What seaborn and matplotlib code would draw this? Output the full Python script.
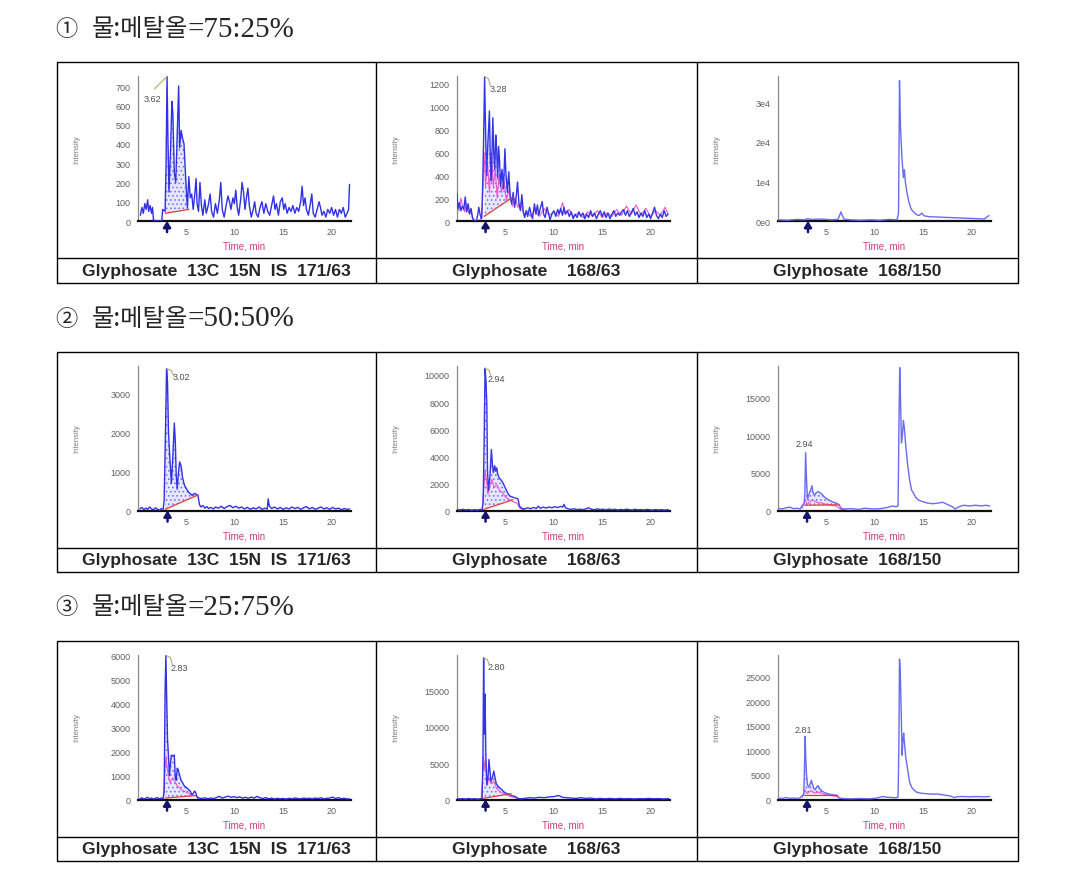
import matplotlib
matplotlib.use("Agg")
import matplotlib.pyplot as plt
from matplotlib.lines import Line2D
from matplotlib.patches import Rectangle
import numpy as np
import seaborn as sns

# ---------------------------------------------------------------
# data: (time [min], intensity [cps])
# ---------------------------------------------------------------
heading_nums = ["①", "②", "③"]
heading_solvent = "물:메탈올"
heading_ratio = ["=75:25%", "=50:50%", "=25:75%"]
captions = ["Glyphosate  13C  15N  IS  171/63", "Glyphosate    168/63", "Glyphosate  168/150"]

# row 1 : 75:25
a1_trace = [(0.25, 30), (0.4, 70), (0.55, 40), (0.7, 90), (0.85, 60), (1.0, 110), (1.1, 50), (1.25, 80),
            (1.4, 40), (1.5, 70), (1.6, 5), (2.0, 0), (2.45, 0), (2.55, 60), (2.8, 50), (2.9, 300),
            (3.0, 750), (3.1, 400), (3.2, 150), (3.35, 350), (3.5, 620), (3.6, 560), (3.75, 250), (3.9, 200),
            (4.05, 450), (4.2, 700), (4.3, 380), (4.45, 470), (4.6, 430), (4.75, 400), (4.85, 300), (5.0, 150),
            (5.1, 70), (5.25, 230), (5.4, 120), (5.55, 140), (5.7, 60), (5.85, 130), (6.0, 220), (6.1, 90),
            (6.25, 50), (6.4, 200), (6.55, 80), (6.7, 30), (6.9, 110), (7.05, 40), (7.25, 80), (7.45, 140),
            (7.6, 50), (7.8, 20), (8.0, 90), (8.2, 40), (8.4, 110), (8.55, 200), (8.7, 60), (8.9, 20),
            (9.1, 80), (9.3, 130), (9.45, 100), (9.6, 60), (9.8, 120), (9.95, 90), (10.1, 160), (10.25, 70),
            (10.4, 30), (10.6, 110), (10.75, 200), (10.9, 150), (11.05, 60), (11.2, 120), (11.35, 170),
            (11.5, 80), (11.7, 20), (11.9, 60), (12.05, 100), (12.2, 40), (12.4, 20), (12.6, 70), (12.8, 100),
            (13.0, 40), (13.2, 90), (13.4, 50), (13.6, 30), (13.8, 80), (14.0, 130), (14.15, 60), (14.3, 90),
            (14.5, 30), (14.7, 100), (14.9, 120), (15.05, 60), (15.2, 90), (15.4, 40), (15.6, 70), (15.8, 50),
            (16.0, 80), (16.2, 40), (16.4, 70), (16.6, 50), (16.8, 100), (16.95, 180), (17.1, 80),
            (17.25, 120), (17.4, 60), (17.6, 30), (17.8, 90), (17.95, 140), (18.1, 40), (18.3, 20), (18.5, 60),
            (18.7, 100), (18.85, 70), (19.0, 30), (19.2, 50), (19.4, 20), (19.6, 60), (19.8, 40), (20.0, 70),
            (20.2, 30), (20.4, 60), (20.6, 20), (20.8, 60), (21.0, 40), (21.2, 70), (21.4, 20), (21.6, 40),
            (21.75, 60), (21.85, 190)]
a2_trace = [(0.0, 240), (0.1, 110), (0.25, 160), (0.4, 90), (0.55, 130), (0.7, 100), (0.85, 210), (1.0, 80),
            (1.15, 150), (1.3, 60), (1.45, 110), (1.6, 30), (1.75, 5), (2.0, 0), (2.15, 60), (2.25, 120),
            (2.4, 50), (2.55, 20), (2.65, 300), (2.75, 720), (2.85, 1260), (2.95, 800), (3.05, 400), (3.2, 700),
            (3.35, 960), (3.45, 500), (3.55, 350), (3.7, 900), (3.8, 600), (3.9, 450), (4.0, 750), (4.1, 620),
            (4.2, 380), (4.3, 650), (4.4, 520), (4.5, 300), (4.65, 450), (4.8, 280), (4.95, 630), (5.05, 420),
            (5.2, 250), (5.35, 430), (5.5, 200), (5.65, 150), (5.8, 250), (5.95, 120), (6.1, 200), (6.25, 340),
            (6.4, 150), (6.55, 90), (6.7, 230), (6.85, 80), (7.0, 30), (7.15, 90), (7.3, 40), (7.5, 120),
            (7.65, 60), (7.8, 20), (8.0, 150), (8.15, 60), (8.3, 140), (8.45, 50), (8.6, 110), (8.8, 170),
            (8.95, 60), (9.1, 30), (9.3, 120), (9.45, 70), (9.6, 10), (9.8, 60), (10.0, 90), (10.2, 40),
            (10.4, 100), (10.55, 60), (10.7, 110), (10.9, 50), (11.05, 120), (11.2, 60), (11.4, 90), (11.6, 40),
            (11.8, 80), (12.0, 20), (12.2, 60), (12.4, 30), (12.6, 80), (12.8, 40), (13.0, 70), (13.2, 20),
            (13.4, 60), (13.6, 30), (13.8, 90), (14.0, 40), (14.2, 70), (14.4, 20), (14.6, 60), (14.8, 90),
            (15.0, 40), (15.2, 80), (15.4, 30), (15.6, 70), (15.8, 20), (16.0, 60), (16.2, 90), (16.4, 40),
            (16.6, 70), (16.8, 50), (17.0, 80), (17.2, 100), (17.4, 50), (17.6, 90), (17.8, 40), (18.0, 70),
            (18.2, 110), (18.4, 50), (18.6, 80), (18.8, 30), (19.0, 70), (19.2, 40), (19.4, 90), (19.6, 30),
            (19.8, 60), (20.0, 20), (20.2, 70), (20.4, 120), (20.6, 50), (20.8, 20), (21.0, 60), (21.2, 30),
            (21.4, 90), (21.6, 40), (21.8, 60)]
a2_pink = [(0.0, 150), (0.2, 90), (0.4, 200), (0.6, 120), (0.8, 80), (1.0, 150), (1.2, 70), (1.4, 100),
           (1.6, 20), (2.0, 0), (2.4, 10), (2.6, 80), (2.8, 600), (2.95, 300), (3.15, 500), (3.35, 250),
           (3.55, 600), (3.75, 300), (3.95, 450), (4.15, 200), (4.35, 400), (4.6, 250), (4.85, 350), (5.1, 180),
           (5.4, 280), (5.7, 130), (6.0, 200), (6.3, 120), (6.6, 160), (6.9, 50), (7.2, 90), (7.6, 40),
           (8.0, 90), (8.5, 40), (9.0, 110), (9.5, 50), (10.0, 80), (10.5, 40), (10.9, 160), (11.2, 60),
           (11.6, 100), (12.0, 40), (12.5, 70), (13.0, 30), (13.5, 80), (14.0, 40), (14.5, 90), (15.0, 30),
           (15.5, 70), (16.0, 40), (16.5, 100), (17.0, 50), (17.5, 130), (18.0, 60), (18.5, 140), (19.0, 50),
           (19.5, 110), (20.0, 40), (20.5, 90), (21.0, 50), (21.5, 120), (21.8, 60)]
a3_trace = [(0.0, 300), (1.0, 200), (2.0, 400), (2.8, 300), (3.0, 600), (3.5, 400), (4.5, 500), (5.5, 300),
            (6.2, 400), (6.5, 2300), (6.8, 500), (7.5, 300), (8.5, 200), (9.5, 300), (10.5, 200), (11.5, 400),
            (12.3, 300), (12.45, 2000), (12.55, 35500), (12.65, 24000), (12.8, 16000), (12.95, 11000),
            (13.05, 13000), (13.15, 10000), (13.3, 7500), (13.5, 5000), (13.75, 3000), (14.0, 2300),
            (14.3, 1600), (14.6, 1400), (14.85, 2000), (15.1, 1300), (15.6, 1100), (16.5, 1000), (17.5, 900),
            (18.5, 800), (19.5, 700), (20.5, 600), (21.3, 500), (21.8, 1400)]

# row 2 : 50:50
b1_trace = [(0.2, 40), (0.4, 80), (0.6, 20), (0.8, 60), (1.0, 30), (1.2, 90), (1.4, 40), (1.6, 20), (1.8, 70),
            (2.0, 30), (2.2, 10), (2.4, 50), (2.6, 30), (2.7, 250), (2.8, 1500), (2.95, 3650), (3.05, 3300),
            (3.15, 2000), (3.3, 1300), (3.45, 700), (3.6, 1400), (3.75, 2250), (3.85, 1800), (3.95, 900),
            (4.05, 550), (4.15, 900), (4.3, 1250), (4.45, 1150), (4.6, 850), (4.8, 650), (5.0, 560), (5.2, 480),
            (5.4, 430), (5.6, 390), (5.8, 440), (6.0, 420), (6.2, 380), (6.35, 150), (6.5, 90), (6.7, 130),
            (6.9, 60), (7.1, 100), (7.3, 50), (7.5, 80), (7.8, 40), (8.0, 90), (8.3, 60), (8.6, 110), (8.9, 50),
            (9.2, 100), (9.5, 130), (9.8, 70), (10.1, 110), (10.4, 60), (10.7, 90), (11.0, 40), (11.3, 80),
            (11.6, 30), (11.9, 70), (12.2, 40), (12.5, 90), (12.8, 30), (13.1, 60), (13.35, 40), (13.45, 300),
            (13.55, 120), (13.8, 50), (14.1, 90), (14.4, 40), (14.7, 80), (15.0, 30), (15.3, 70), (15.6, 40),
            (15.9, 90), (16.2, 50), (16.5, 80), (16.8, 30), (17.1, 70), (17.4, 100), (17.7, 40), (18.0, 80),
            (18.3, 30), (18.6, 60), (18.9, 90), (19.2, 40), (19.5, 70), (19.8, 30), (20.1, 80), (20.4, 40),
            (20.7, 60), (21.0, 20), (21.3, 50), (21.6, 30), (21.85, 40)]
b2_trace = [(0.0, 80), (0.3, 30), (0.6, 90), (0.9, 40), (1.2, 70), (1.5, 20), (1.8, 60), (2.1, 30), (2.4, 80),
            (2.6, 50), (2.7, 600), (2.8, 5000), (2.9, 10500), (3.0, 9500), (3.08, 7800), (3.15, 3000),
            (3.25, 1500), (3.4, 2500), (3.55, 4500), (3.65, 3500), (3.75, 2800), (3.9, 3300), (4.0, 2900),
            (4.1, 3150), (4.2, 2700), (4.35, 2400), (4.5, 2300), (4.7, 2100), (4.9, 1800), (5.1, 1500),
            (5.3, 1200), (5.5, 1050), (5.7, 1000), (5.9, 950), (6.1, 900), (6.3, 850), (6.45, 350), (6.6, 200),
            (6.8, 150), (7.0, 120), (7.3, 200), (7.6, 130), (7.9, 220), (8.2, 150), (8.4, 320), (8.6, 160),
            (8.9, 250), (9.2, 180), (9.5, 260), (9.8, 200), (10.1, 280), (10.4, 220), (10.7, 300), (10.9, 250),
            (11.05, 450), (11.2, 200), (11.5, 120), (11.8, 80), (12.1, 130), (12.4, 70), (12.7, 100),
            (13.0, 60), (13.3, 120), (13.6, 200), (13.9, 90), (14.2, 60), (14.5, 120), (14.8, 70), (15.1, 100),
            (15.4, 50), (15.7, 110), (16.0, 60), (16.3, 90), (16.6, 40), (16.9, 80), (17.2, 50), (17.5, 100),
            (17.8, 60), (18.1, 40), (18.4, 90), (18.7, 50), (19.0, 70), (19.3, 40), (19.6, 80), (19.9, 60),
            (20.2, 30), (20.5, 70), (20.8, 40), (21.1, 60), (21.4, 30), (21.7, 60), (21.85, 40)]
b2_pink = [(2.6, 30), (2.75, 1500), (2.9, 3000), (3.05, 2200), (3.2, 1200), (3.4, 1800), (3.6, 2300),
           (3.85, 1700), (4.1, 1900), (4.4, 1500), (4.7, 1300), (5.0, 1000), (5.4, 800), (5.8, 650),
           (6.2, 550), (6.45, 200), (6.7, 80), (7.0, 50)]
b3_trace = [(0.0, 300), (0.4, 200), (0.8, 350), (1.2, 450), (1.6, 250), (2.0, 300), (2.3, 200), (2.5, 700),
            (2.7, 800), (2.78, 2500), (2.85, 7700), (2.95, 4000), (3.05, 1500), (3.2, 2200), (3.4, 2800),
            (3.5, 3300), (3.6, 2500), (3.75, 2000), (3.9, 2300), (4.1, 2500), (4.3, 2400), (4.5, 2200),
            (4.8, 1800), (5.1, 1500), (5.4, 1300), (5.7, 1100), (6.0, 1000), (6.3, 800), (6.5, 300), (6.8, 200),
            (7.5, 250), (8.3, 150), (9.0, 300), (9.8, 200), (10.6, 250), (11.3, 400), (11.8, 600), (12.2, 500),
            (12.4, 600), (12.5, 12000), (12.57, 19000), (12.65, 15000), (12.75, 9000), (12.85, 10000),
            (12.95, 12000), (13.05, 11000), (13.2, 8500), (13.4, 6000), (13.6, 4000), (13.8, 2700),
            (14.0, 2300), (14.2, 1800), (14.5, 1400), (14.9, 1200), (15.4, 1000), (16.0, 900), (16.6, 1000),
            (17.0, 1100), (17.5, 800), (18.0, 500), (18.3, 200), (18.7, 500), (19.2, 700), (19.8, 600),
            (20.4, 700), (21.0, 600), (21.5, 700), (21.85, 600)]
b3_pink = [(2.5, 300), (2.8, 1500), (3.0, 800), (3.5, 1400), (4.0, 1100), (4.5, 1000), (5.0, 800),
           (5.5, 700), (6.0, 600), (6.5, 150), (7.0, 100)]

# row 3 : 25:75
c1_trace = [(0.2, 30), (0.4, 70), (0.6, 20), (0.8, 50), (1.0, 90), (1.2, 30), (1.4, 60), (1.6, 20), (1.8, 50),
            (2.0, 80), (2.2, 30), (2.4, 60), (2.6, 40), (2.7, 300), (2.8, 4500), (2.88, 6000), (2.95, 4500),
            (3.05, 2500), (3.15, 1800), (3.25, 1000), (3.35, 1500), (3.45, 1850), (3.6, 1800), (3.75, 1850),
            (3.85, 900), (3.95, 800), (4.05, 1300), (4.15, 1250), (4.3, 1000), (4.45, 800), (4.6, 700),
            (4.8, 550), (5.0, 500), (5.2, 420), (5.4, 350), (5.55, 200), (5.7, 250), (5.85, 350), (5.95, 300),
            (6.1, 100), (6.3, 60), (6.6, 40), (6.9, 70), (7.2, 30), (7.5, 60), (7.8, 40), (8.1, 80), (8.4, 130),
            (8.7, 60), (9.0, 100), (9.3, 140), (9.6, 90), (9.9, 120), (10.2, 80), (10.5, 110), (10.8, 60),
            (11.1, 90), (11.4, 50), (11.7, 100), (12.0, 60), (12.3, 130), (12.6, 70), (12.9, 40), (13.2, 80),
            (13.5, 30), (13.8, 60), (14.1, 20), (14.4, 50), (14.7, 30), (15.0, 40), (15.3, 20), (15.6, 50),
            (15.9, 30), (16.2, 60), (16.5, 40), (16.8, 30), (17.1, 60), (17.4, 40), (17.7, 50), (18.0, 30),
            (18.3, 60), (18.6, 40), (18.9, 70), (19.2, 30), (19.5, 50), (19.8, 60), (20.1, 100), (20.4, 40),
            (20.7, 80), (21.0, 30), (21.3, 50), (21.6, 20), (21.85, 30)]
c1_pink = [(2.6, 20), (2.75, 1000), (2.9, 1800), (3.05, 1200), (3.3, 700), (3.6, 900), (4.0, 600),
           (4.5, 400), (5.0, 300), (5.5, 200), (6.0, 150), (6.2, 30)]
c2_trace = [(0.0, 150), (0.3, 80), (0.6, 120), (0.9, 60), (1.2, 140), (1.5, 70), (1.8, 110), (2.1, 60),
            (2.4, 90), (2.6, 150), (2.68, 6000), (2.75, 19500), (2.82, 9000), (2.9, 14500), (2.98, 6000),
            (3.08, 2000), (3.2, 3000), (3.3, 5500), (3.4, 4000), (3.5, 2500), (3.65, 3000), (3.8, 3900),
            (3.9, 3200), (4.05, 2200), (4.2, 1900), (4.4, 1600), (4.6, 1400), (4.8, 1100), (5.0, 900),
            (5.3, 750), (5.6, 550), (5.9, 450), (6.1, 350), (6.3, 150), (6.6, 100), (7.0, 150), (7.5, 250),
            (8.0, 200), (8.5, 300), (9.0, 250), (9.5, 350), (10.0, 400), (10.5, 550), (10.9, 300), (11.3, 250),
            (11.8, 200), (12.3, 150), (12.8, 250), (13.3, 150), (13.8, 200), (14.3, 100), (14.8, 150),
            (15.3, 100), (15.8, 150), (16.3, 100), (16.8, 150), (17.3, 100), (17.8, 130), (18.3, 80),
            (18.8, 120), (19.3, 100), (19.8, 150), (20.3, 100), (20.8, 130), (21.3, 80), (21.85, 120)]
c2_pink = [(2.5, 100), (2.65, 3000), (2.72, 6000), (2.8, 4000), (2.95, 5500), (3.1, 2000), (3.3, 3000),
           (3.5, 2200), (3.8, 2500), (4.1, 1500), (4.5, 1000), (5.0, 700), (5.5, 400), (6.0, 250), (6.3, 100),
           (7.0, 80)]
c3_trace = [(0.0, 300), (0.4, 200), (0.8, 400), (1.2, 250), (1.6, 300), (2.0, 200), (2.3, 350), (2.5, 800),
            (2.65, 900), (2.72, 5000), (2.8, 12800), (2.88, 8000), (2.95, 5000), (3.05, 3000), (3.15, 2500),
            (3.3, 3000), (3.45, 3900), (3.55, 3200), (3.7, 2200), (3.85, 2000), (4.0, 2600), (4.15, 2800),
            (4.3, 2200), (4.5, 1800), (4.8, 1400), (5.1, 1200), (5.5, 1000), (5.9, 900), (6.1, 850), (6.3, 300),
            (6.7, 200), (7.5, 150), (8.5, 200), (9.5, 150), (10.2, 300), (10.8, 600), (11.3, 450), (11.8, 400),
            (12.2, 350), (12.4, 500), (12.48, 10000), (12.55, 28500), (12.63, 26000), (12.72, 18000),
            (12.82, 9000), (12.9, 12000), (12.98, 13500), (13.08, 11000), (13.2, 8500), (13.4, 6000),
            (13.6, 3500), (13.8, 2500), (14.0, 2000), (14.3, 1500), (14.7, 1300), (15.2, 1200), (15.8, 1100),
            (16.5, 1100), (17.2, 900), (17.8, 700), (18.2, 400), (18.6, 600), (19.2, 600), (19.8, 550),
            (20.5, 600), (21.2, 550), (21.85, 600)]
c3_pink = [(2.5, 400), (2.75, 2000), (3.0, 1200), (3.4, 1800), (3.8, 1300), (4.2, 1500), (4.7, 1100),
           (5.2, 900), (5.8, 700), (6.2, 500), (6.5, 150), (7.0, 100)]

# integration baselines (start, end), peak labels (text, pos, leader), injection marker, y axis
baselines = [[((2.8, 40), (5.25, 60)), ((2.8, 40), (5.8, 210)), None],
             [((2.8, 30), (6.2, 400)), ((2.75, 80), (5.8, 800)), ((2.8, 700), (6.3, 750))],
             [((2.8, 60), (5.9, 160)), ((2.7, 150), (5.6, 800)), ((2.7, 900), (6.1, 900))]]
peak_labels = [[("3.62", (1.5, 634), [(3.0, 750), (1.7, 685)]),
                ("3.28", (4.3, 1154), [(2.85, 1260), (3.25, 1240), (3.45, 1180)]),
                None],
               [("3.02", (4.5, 3440), [(2.95, 3650), (3.45, 3600), (3.7, 3450)]),
                ("2.94", (4.1, 9730), [(2.9, 10500), (3.3, 10350), (3.5, 9950)]),
                ("2.94", (2.75, 8900), None)],
               [("2.83", (4.3, 5500), [(2.88, 6000), (3.35, 5900), (3.55, 5600)]),
                ("2.80", (4.05, 18250), [(2.75, 19500), (3.15, 19200), (3.35, 18500)]),
                ("2.81", (2.66, 14200), None)]]
marker_t = [[3.0, 2.95, 3.1], [3.05, 2.95, 3.0], [3.0, 2.95, 3.0]]
y_max = [[752, 1265, 36700], [3730, 10700, 19300], [6030, 19950, 29450]]
y_ticks = [[[0, 100, 200, 300, 400, 500, 600, 700], [0, 200, 400, 600, 800, 1000, 1200], [0, 10000, 20000, 30000]],
           [[0, 1000, 2000, 3000], [0, 2000, 4000, 6000, 8000, 10000], [0, 5000, 10000, 15000]],
           [[0, 1000, 2000, 3000, 4000, 5000, 6000], [0, 5000, 10000, 15000], [0, 5000, 10000, 15000, 20000, 25000]]]
a3_ticklabels = ["0e0", "1e4", "2e4", "3e4"]
x_ticks = [5, 10, 15, 20]

traces = [[a1_trace, a2_trace, a3_trace], [b1_trace, b2_trace, b3_trace], [c1_trace, c2_trace, c3_trace]]
pinks = [[None, a2_pink, None], [None, b2_pink, b3_pink], [c1_pink, c2_pink, c3_pink]]

# ---------------------------------------------------------------
sns.set_style("white")
plt.rcParams["font.family"] = ["Liberation Sans", "DejaVu Sans"]
plt.rcParams["hatch.linewidth"] = 0.6

W, H = 1070, 870
fig = plt.figure(figsize=(W / 100, H / 100), dpi=100)
fig.patch.set_facecolor("white")

col_left = [57, 376, 697]
col_right = 1018
row_top = [63, 352.5, 641.5]
row_h = 220.5
cap_off = 196

trace_col = ["#3030e6", "#3434e8", "#6b6bf2"]


def fx(x):
    return x / W


def fy(y):
    return 1 - y / H


def draw_panel(ax, r, c):
    t, y = map(np.array, zip(*traces[r][c]))
    base = baselines[r][c]
    if base is not None:
        (t0, b0), (t1, b1) = base
        m = (t >= t0) & (t <= t1)
        bl = b0 + (b1 - b0) * (t[m] - t0) / (t1 - t0)
        ax.fill_between(t[m], bl, y[m], facecolor="#e6e6ff", edgecolor="#6c6cff",
                        hatch="....", lw=0, zorder=1)
    if pinks[r][c] is not None:
        pt, py = zip(*pinks[r][c])
        sns.lineplot(x=list(pt), y=list(py), ax=ax, color="#ee55cc", lw=0.8,
                     estimator=None, sort=False, zorder=2)
    sns.lineplot(x=t, y=y, ax=ax, color=trace_col[c], lw=1.0,
                 estimator=None, sort=False, zorder=3)
    if base is not None:
        sns.lineplot(x=[t0, t1], y=[b0, b1], ax=ax, color="#e03c3c", lw=0.9,
                     estimator=None, sort=False, zorder=4)

    lab = peak_labels[r][c]
    if lab is not None:
        txt, (lx, ly), leader = lab
        ax.text(lx, ly, txt, fontsize=6.5, color="#505050", ha="center", va="center", zorder=5)
        if leader is not None:
            lt, ly_ = zip(*leader)
            ax.plot(lt, ly_, color="#b4aa70", lw=0.8, zorder=5)

    ax.annotate("", xy=(marker_t[r][c], 0), xytext=(0, -8), textcoords="offset points",
                arrowprops=dict(arrowstyle="-|>,head_length=0.35,head_width=0.22",
                                color="#141470", lw=1.8, shrinkA=0, shrinkB=0),
                annotation_clip=False)

    ax.set_xlim(0, 22)
    ax.set_ylim(0, y_max[r][c])
    ax.set_xticks(x_ticks)
    ax.set_yticks(y_ticks[r][c])
    if (r, c) == (0, 2):
        ax.set_yticklabels(a3_ticklabels)
    ax.tick_params(labelsize=6.5, colors="#606060", length=2, width=0.6)
    ax.tick_params(axis="y", pad=3.5)
    ax.tick_params(axis="x", pad=2.5)
    for s in ["top", "right"]:
        ax.spines[s].set_visible(False)
    ax.spines["left"].set_color("#8c8c8c")
    ax.spines["left"].set_linewidth(0.9)
    ax.spines["bottom"].set_color("#101010")
    ax.spines["bottom"].set_linewidth(1.6)
    ax.set_xlabel("Time, min", fontsize=7, color="#d23c78")
    ax.set_ylabel("Intensity", fontsize=5.5, color="#7a7a7a")
    ax.xaxis.set_label_coords(0.5, -0.135)
    ax.yaxis.set_label_coords(-0.27, 0.5)
    ax.patch.set_alpha(0)


for r in range(3):
    top = row_top[r]
    # heading: circled number + Korean in CJK font, ratio in a serif
    fig.text(fx(55), fy(top - 27), heading_nums[r], fontsize=16, ha="left", va="baseline",
             family=["Noto Sans CJK KR", "DejaVu Sans"])
    fig.text(fx(92), fy(top - 27), heading_solvent, fontsize=17.5, ha="left", va="baseline",
             family=["Noto Sans CJK KR", "DejaVu Sans"], fontweight="light")
    fig.text(fx(187), fy(top - 26), heading_ratio[r], fontsize=21, ha="left", va="baseline",
             family=["Liberation Serif", "DejaVu Serif"])

    fig.add_artist(Rectangle((fx(col_left[0]), fy(top + row_h)), fx(col_right - col_left[0]),
                             row_h / H, transform=fig.transFigure, fill=False,
                             lw=1.0, edgecolor="black"))
    for x in col_left[1:]:
        fig.add_artist(Line2D([fx(x), fx(x)], [fy(top), fy(top + row_h)],
                              transform=fig.transFigure, color="black", lw=1.0))
    fig.add_artist(Line2D([fx(col_left[0]), fx(col_right)], [fy(top + cap_off), fy(top + cap_off)],
                          transform=fig.transFigure, color="black", lw=1.0))
    for c in range(3):
        left = col_left[c] + 81
        ax = fig.add_axes([fx(left), fy(top + 159), 213 / W, 145 / H])
        draw_panel(ax, r, c)
        right = col_left[c + 1] if c < 2 else col_right
        fig.text(fx((col_left[c] + right) / 2), fy(top + 208.5), captions[c], ha="center",
                 va="center", fontsize=12.6, fontweight="bold")

fig.savefig("out.png", dpi=100, facecolor="white")
